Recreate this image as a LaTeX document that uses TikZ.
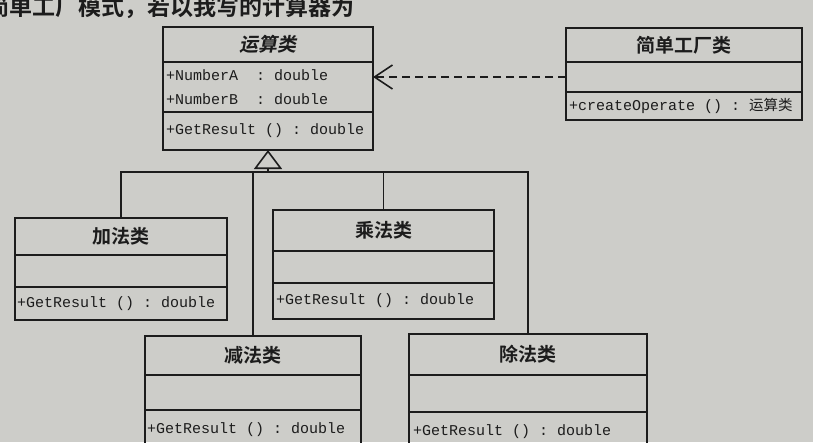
\documentclass[tikz,border=0pt]{standalone}
\usepackage{fontspec}
\usetikzlibrary{arrows.meta}
\newfontfamily\cjk{Noto Sans CJK SC}
\newfontfamily\cjkb{Noto Sans CJK SC Bold}
\newfontfamily\cjkbi[FakeSlant=0.2]{Noto Sans CJK SC Bold}
\setmonofont{Liberation Mono}
\definecolor{paper}{HTML}{CDCDC9}
\definecolor{ink}{HTML}{1C1C1C}

\tikzset{
  box/.style={draw=ink, line width=1.6pt, inner sep=0pt, outer sep=0pt, anchor=north west},
  title/.style={font=\cjkb\fontsize{19}{19}\selectfont, text=ink, inner sep=0pt},
  member/.style={font=\ttfamily\fontsize{15}{15}\selectfont, text=ink, anchor=west, inner sep=0pt},
  link/.style={draw=ink, line width=1.6pt},
}

% UML class: name, x, y, width, header height, attribute height, method height, title
\newcommand\umlclass[8]{%
  \node[box, minimum width=#4pt, minimum height=#5pt] (#1) at (#2,#3) {};
  \node[box, minimum width=#4pt, minimum height=#6pt] (#1-a) at (#1.south west) {};
  \node[box, minimum width=#4pt, minimum height=#7pt] (#1-m) at (#1-a.south west) {};
  \node[title] (#1-t) at (#1.center) {#8};
}

\begin{document}
\begin{tikzpicture}[x=1pt,y=-1pt]
\fill[paper] (0,0) rectangle (813,442);
\useasboundingbox (0,0) rectangle (813,442);
\clip (0,0) rectangle (813,442);

% running text line above the figure
\node[anchor=base west, inner sep=0pt, font=\cjkb\fontsize{23}{23}\selectfont, text=ink]
  (intro) at (-14,15) {简单工厂模式，若以我写的计算器为};

% classes
\umlclass{calc}{163}{27}{210}{35}{50}{38}{{\cjkbi 运算类}}
\umlclass{fac}{566}{28}{236}{34}{30}{28}{简单工厂类}
\umlclass{add}{15}{218}{212}{37}{32}{33}{加法类}
\umlclass{mul}{273}{210}{221}{41}{32}{36}{乘法类}
\umlclass{sub}{145}{336}{216}{39}{35}{40}{减法类}
\umlclass{div}{409}{334}{238}{41}{37}{40}{除法类}

% members
\node[member] (calc-x1) at (166,75) {+NumberA~~:~double};
\node[member] (calc-x2) at (166,99) {+NumberB~~:~double};
\node[member] (calc-op) at ([xshift=3pt]calc-m.west) {+GetResult~()~:~double};
\node[member] (fac-op) at ([xshift=3pt]fac-m.west) {+createOperate~()~:~{\cjk\fontsize{14.5}{14.5}\selectfont 运算类}};
\node[member] (add-op) at ([xshift=2pt]add-m.west) {+GetResult~()~:~double};
\node[member] (mul-op) at ([xshift=3pt]mul-m.west) {+GetResult~()~:~double};
\node[member] (sub-op) at ([xshift=2pt]sub-m.west) {+GetResult~()~:~double};
\node[member] (div-op) at ([xshift=4pt]div-m.west) {+GetResult~()~:~double};

% dependency: factory creates the operation
\draw[link, dash pattern=on 8pt off 5pt, -{Straight Barb[length=18pt, width=24pt]}]
  (fac-a.west) -- (fac-a.west -| calc-a.east);

% generalization tree
\coordinate (bus) at (268,172);
\draw[link, -{Triangle[open, length=19pt, width=28pt]}] (bus) -- (calc-m.south);
\draw[link] (add.north) |- (div.north |- bus) -- (div.north);
\draw[link] (sub.north) -- (sub.north |- bus);
\draw[link] (mul.north) -- (mul.north |- bus);
\end{tikzpicture}
\end{document}
